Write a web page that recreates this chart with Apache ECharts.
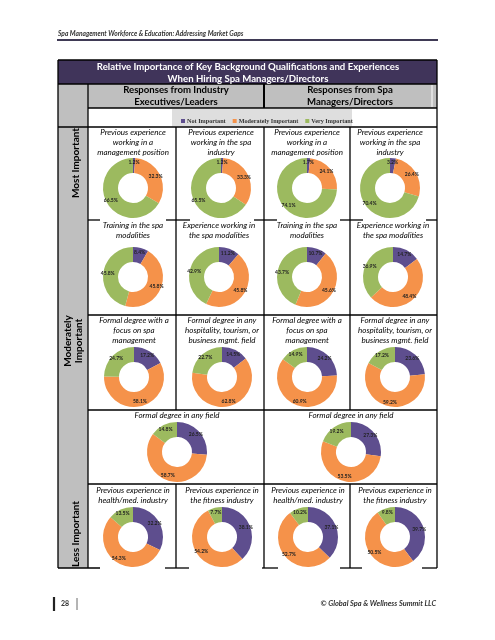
<!DOCTYPE html>
<html><head><meta charset="utf-8">
<script src="https://cdn.jsdelivr.net/npm/echarts@6/dist/echarts.min.js"></script>
<style>html,body{margin:0;padding:0;background:#fff}#c{width:495px;height:640px}</style>
</head><body><div id="c"></div>
<script>
// ---------- DATA ----------
const levels = ['Not Important', 'Moderately Important', 'Very Important'];
const chartTitles = [
  'Previous experience\nworking in a\nmanagement position',
  'Previous experience\nworking in the spa\nindustry',
  'Previous experience\nworking in a\nmanagement position',
  'Previous experience\nworking in the spa\nindustry',
  'Training in the spa\nmodalities',
  'Experience working in\nthe spa modalities',
  'Training in the spa\nmodalities',
  'Experience working in\nthe spa modalities',
  'Formal degree with a\nfocus on spa\nmanagement',
  'Formal degree in any\nhospitality, tourism, or\nbusiness mgmt. field',
  'Formal degree with a\nfocus on spa\nmanagement',
  'Formal degree in any\nhospitality, tourism, or\nbusiness mgmt. field',
  'Formal degree in any field',
  'Formal degree in any field',
  'Previous experience in\nhealth/med. industry',
  'Previous experience in\nthe fitness industry',
  'Previous experience in\nhealth/med. industry',
  'Previous experience in\nthe fitness industry'
];
const notImportant        = [1.2, 1.2, 1.7, 3.2,  8.4, 11.2, 10.7, 14.7, 17.2, 14.5, 24.2, 23.6, 26.5, 27.3, 32.2, 38.1, 37.1, 39.7];
const moderatelyImportant = [32.3, 33.3, 24.1, 26.4, 45.8, 45.8, 45.6, 48.4, 58.1, 62.8, 60.9, 59.2, 58.7, 53.5, 54.3, 54.2, 52.7, 50.5];
const veryImportant       = [66.5, 65.5, 74.1, 70.4, 45.8, 42.9, 43.7, 36.9, 24.7, 22.7, 14.9, 17.2, 14.8, 19.2, 13.5, 7.7, 10.2, 9.8];
const headerTitle = 'Relative Importance of Key Background Qualifications and Experiences\nWhen Hiring Spa Managers/Directors';
const groupHeaders = ['Responses from Industry\nExecutives/Leaders', 'Responses from Spa\nManagers/Directors'];
const rowGroups = ['Most Important', 'Moderately\nImportant', 'Less Important'];

// ---------- LAYOUT ----------
const COLORS = ['#5e4e8e', '#f5924a', '#9cba5f'];
const FONT = 'Lato, "Open Sans", sans-serif';
const layout = [
  // [cx, cy, titleY]
  [133,188,132],[221,188,132],[307,188,132],[390,188,132],
  [133,277,225],[219,277,225],[307,277,225],[393,277,225],
  [134,377,320],[222,377,320],[307,377,320],[395,377,320],
  [177,452,415],[351,452,415],
  [133,537,490],[222,537,490],[308,537,490],[395,537,490]
];

const g = [];
function rect(x,y,w,h,fill){ g.push({type:'rect',shape:{x,y,width:w,height:h},style:{fill},z:0,silent:true}); }
function line(x1,y1,x2,y2,w,c){ g.push({type:'line',shape:{x1,y1,x2,y2},style:{stroke:c||'#000',lineWidth:w||1.3},z:2,silent:true}); }
function text(t,x,y,opt){ opt=opt||{};
  g.push({type:'text',x,y,rotation:opt.rot||0,z:3,silent:true,style:{text:t,x:0,y:0,fill:opt.fill||'#000',
    font:opt.font||('italic 8px '+FONT),align:opt.align||'center',verticalAlign:opt.va||'middle',lineHeight:opt.lh||10.3}}); }

// page header & footer
text('Spa Management Workforce & Education: Addressing Market Gaps',58,34,{font:'italic bold 6.6px '+FONT,align:'left',fill:'#333'});
line(57,40,438,40,2,'#3f3a55');
line(54,597,54,611,2.2,'#222');
text('28',65,604,{font:'bold 7px '+FONT,fill:'#333'});
line(77,598,77,610,0.8,'#444');
text('\u00a9 Global Spa & Wellness Summit LLC',436,604,{font:'italic bold 7.4px '+FONT,align:'right',fill:'#333'});

// table fills
rect(58,60,379,24,'#40345a');
rect(88,84,349,24,'#bfbfbf');
rect(58,84,30,484,'#bfbfbf');
rect(172,109,180,17.5,'#dedede');
line(432,85,432,107,1,'#fff');

// table lines
line(58,60,437,60); line(58,84,437,84); line(88,108,437,108); line(58,127,437,127);
line(58,60,58,568); line(437,60,437,568); line(88,84,88,568);
line(264,84,264,108,2); line(264,127,264,568);
line(176,127,176,410); line(176,484,176,568);
line(350,127,350,410); line(350,484,350,568);
[[88,100],[166,190],[254,277],[340,363],[426,437]].forEach(s=>line(s[0],220,s[1],220));
line(88,315,437,315); line(88,410,437,410); line(88,484,437,484);
[[58,100],[165,189],[262,278],[340,362],[422,437]].forEach(s=>line(s[0],568,s[1],568));

// header texts
text(headerTitle,248,73,{font:'bold 9.6px '+FONT,fill:'#fff',lh:12});
text(groupHeaders[0],176,96,{font:'bold 9.6px '+FONT,lh:12});
text(groupHeaders[1],350,96,{font:'bold 9.6px '+FONT,lh:12});
text(rowGroups[0],76,163,{font:'bold 10px '+FONT,rot:Math.PI/2});
text(rowGroups[1],73,341,{font:'bold 10px '+FONT,rot:Math.PI/2,lh:11});
text(rowGroups[2],76,534,{font:'bold 10px '+FONT,rot:Math.PI/2});

// cell titles
chartTitles.forEach((t,i)=>{
  const L = layout[i];
  const n = t.split('\n').length;
  text(t, L[0], L[2] + (n-1)*10.3/2, {});
});

const series = chartTitles.map((t,i)=>({
  type:'pie', center:[layout[i][0],layout[i][1]], radius:[15,30],
  startAngle:90, clockwise:true, avoidLabelOverlap:false, animation:false,
  itemStyle:{borderWidth:0},
  label:{show:true, position:'inside', fontSize:5, fontWeight:'bold', color:'#222', fontFamily:FONT,
    formatter:p=>p.value.toFixed(1)+'%'},
  labelLine:{show:false},
  emphasis:{disabled:true},
  data: levels.map((n,k)=>({name:n, value:[notImportant,moderatelyImportant,veryImportant][k][i]}))
}));

const chart = echarts.init(document.getElementById('c'), null, {renderer:'canvas'});
chart.setOption({
  backgroundColor:'#fff',
  color: COLORS,
  legend:{data:levels, left:176, top:113, itemWidth:4, itemHeight:4, itemGap:7, icon:'rect',
    textStyle:{fontSize:6.2, fontWeight:'bold', fontFamily:'"Liberation Serif", serif', color:'#333', padding:[0,0,0,-3]}},
  graphic: g,
  series
});
</script></body></html>
